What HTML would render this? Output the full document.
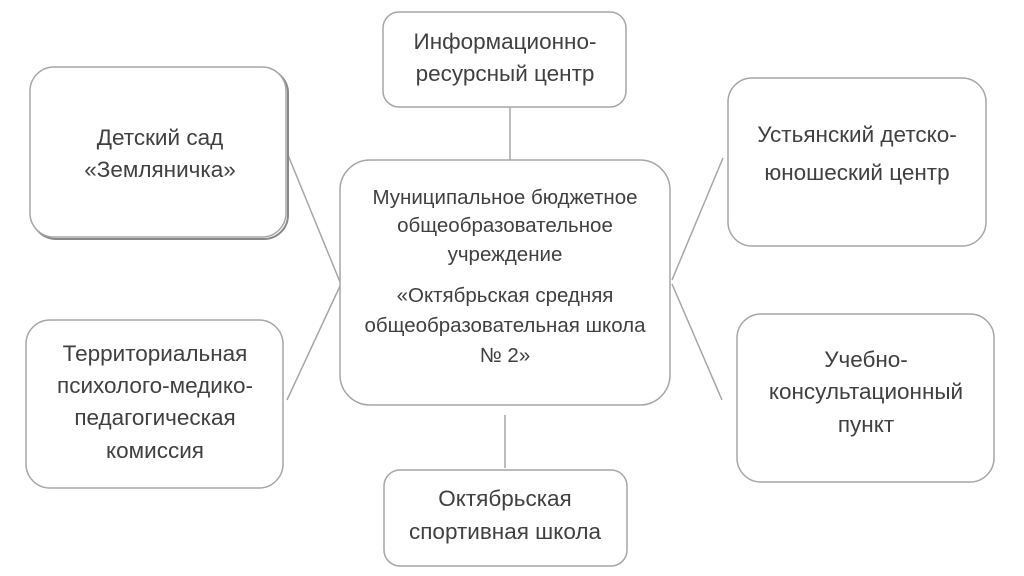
<!DOCTYPE html>
<html><head><meta charset="utf-8"><style>
html,body{margin:0;padding:0;background:#fff;}
svg{display:block}
text{font-family:"Liberation Sans","DejaVu Sans",sans-serif;font-size:22.5px;fill:#404040;text-anchor:middle}
rect{fill:#fff;stroke:#a6a6a6;stroke-width:1.5}
line{stroke:#a6a6a6;stroke-width:1.5}
</style></head><body>
<svg width="1024" height="576" viewBox="0 0 1024 576">
<line x1="510" y1="107" x2="510" y2="160"/>
<line x1="505" y1="415" x2="505" y2="468"/>
<line x1="288" y1="155" x2="340" y2="282"/>
<line x1="287" y1="400" x2="340" y2="286"/>
<line x1="723" y1="158" x2="672" y2="280"/>
<line x1="722" y1="400" x2="672" y2="284"/>
<rect x="32" y="69" width="256" height="170" rx="24" style="stroke:#888;stroke-width:2"/>
<rect x="30" y="67" width="256" height="170" rx="24"/>
<rect x="383" y="12" width="243" height="95" rx="16"/>
<rect x="728" y="78" width="258" height="168" rx="24"/>
<rect x="340" y="160" width="330" height="245" rx="30"/>
<rect x="26" y="320" width="257" height="168" rx="24"/>
<rect x="737" y="314" width="257" height="168" rx="24"/>
<rect x="384" y="470" width="243" height="96" rx="16"/>
<text x="505" y="49">Информационно-</text>
<text x="505" y="81">ресурсный центр</text>
<text x="160" y="145">Детский сад</text>
<text x="160" y="177">«Земляничка»</text>
<text x="857" y="142">Устьянский детско-</text>
<text x="857" y="180">юношеский центр</text>
<text x="505" y="204" style="font-size:20.5px">Муниципальное бюджетное</text>
<text x="505" y="232" style="font-size:20.5px">общеобразовательное</text>
<text x="505" y="261" style="font-size:20.5px">учреждение</text>
<text x="505" y="302" style="font-size:20.5px">«Октябрьская средняя</text>
<text x="505" y="332" style="font-size:20.5px">общеобразовательная школа</text>
<text x="505" y="362" style="font-size:20.5px">№ 2»</text>
<text x="155" y="361">Территориальная</text>
<text x="155" y="393">психолого-медико-</text>
<text x="155" y="425">педагогическая</text>
<text x="155" y="458">комиссия</text>
<text x="866" y="367">Учебно-</text>
<text x="866" y="399">консультационный</text>
<text x="866" y="432">пункт</text>
<text x="505" y="506">Октябрьская</text>
<text x="505" y="539">спортивная школа</text>
</svg>
</body></html>
